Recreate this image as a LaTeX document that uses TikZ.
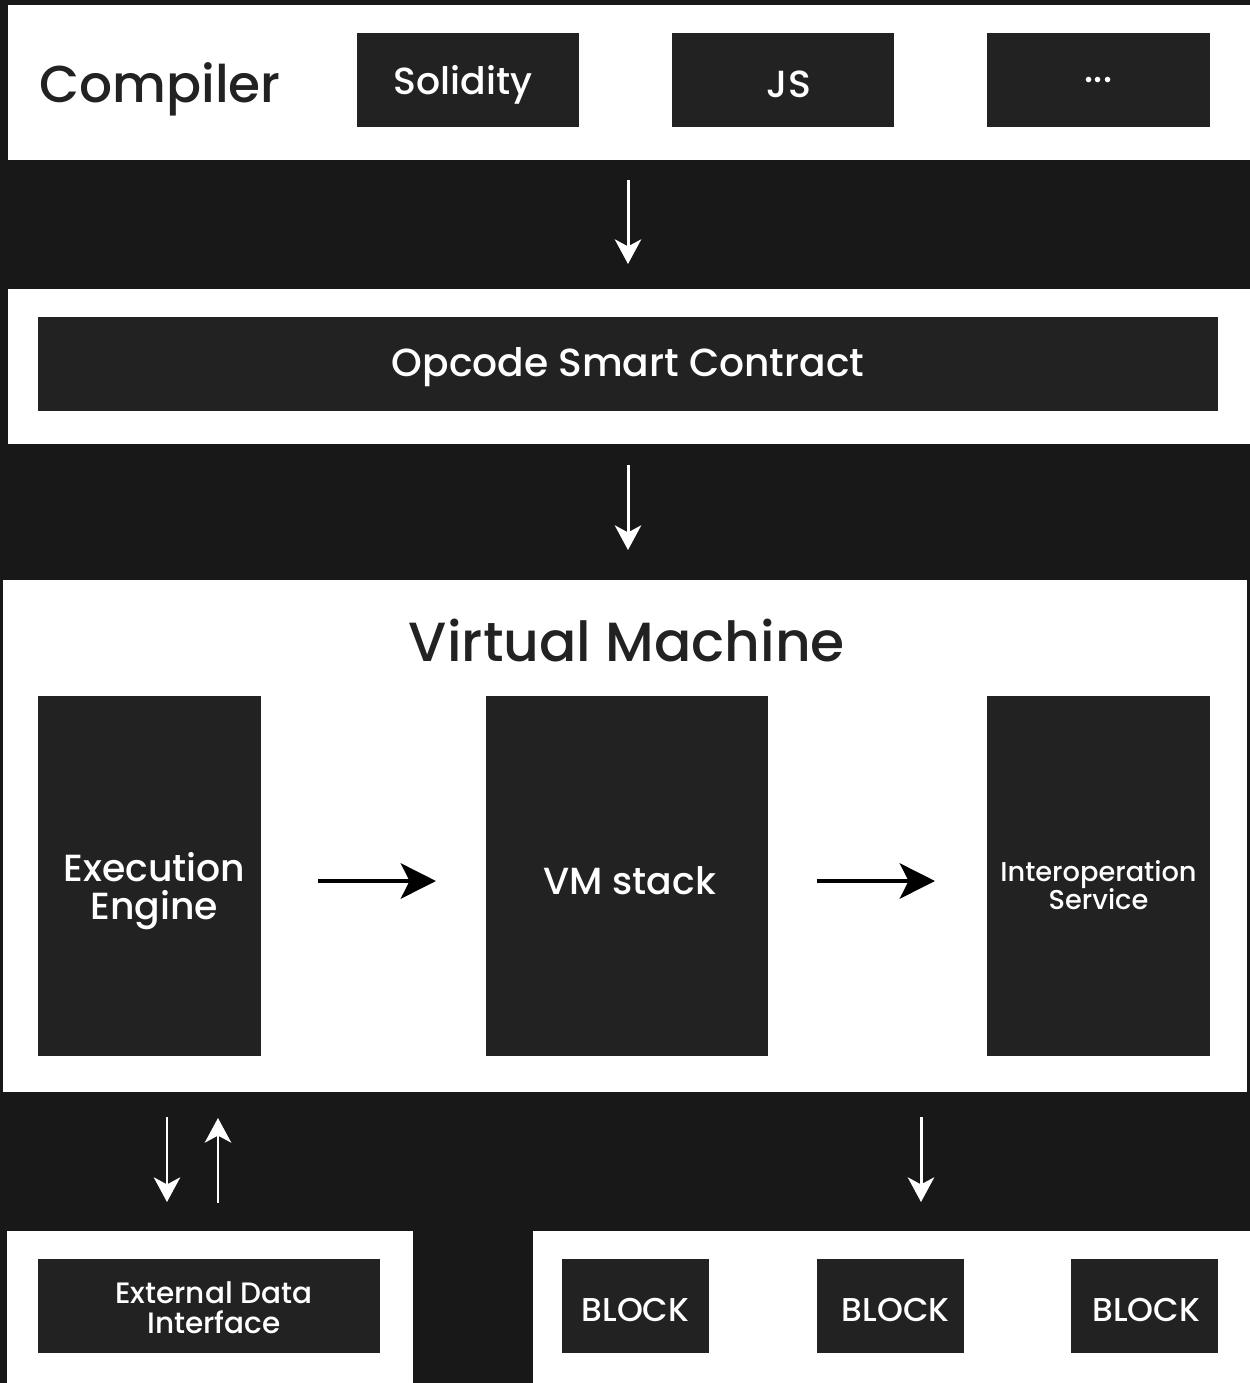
\documentclass[tikz,border=0pt]{standalone}
\usepackage{fontspec}
\setmainfont{Poppins Medium}
\usetikzlibrary{fit,arrows.meta}
\definecolor{bg}{HTML}{181818}
\definecolor{boxc}{HTML}{222222}
\definecolor{txt}{HTML}{222222}
\begin{document}
\begin{tikzpicture}[x=0.02cm,y=-0.02cm,
  panel/.style={fill=white,draw=none,inner sep=0pt},
  box/.style={fill=boxc,draw=none,inner sep=0pt,text=white,align=center},
  warrow/.style={draw=white,line width=1.7pt,-{Stealth[length=14pt,width=15pt,inset=4pt]}},
  barrow/.style={draw=black,line width=2.8pt,-{Stealth[length=20pt,width=20pt,inset=5pt]}},
  f22/.style={font=\fontsize{21.5}{26}\selectfont},
  f16/.style={font=\fontsize{15.5}{17}\selectfont},
  f17/.style={font=\fontsize{16.8}{18}\selectfont},
  f18/.style={font=\fontsize{18.8}{20}\selectfont}]
\fill[bg] (0,0) rectangle (1250,1383);
\useasboundingbox (0,0) rectangle (1250,1383);
% panels
\node[panel,fit={(8,5)(1250,160)}] (p1) {};
\node[panel,fit={(8,289)(1250,444)}] (p2) {};
\node[panel,fit={(3,580)(1247,1092)}] (p3) {};
\node[panel,fit={(7,1231)(413,1383)}] (p4) {};
\node[panel,fit={(533,1231)(1250,1383)}] (p5) {};
% compiler row
\node[anchor=west,text=txt,font=\fontsize{29.5}{34}\selectfont,inner sep=0pt] (comp) at (39,89) {Compiler};
\node[box,fit={(357,33)(579,127)}] (sol) {};
\node[text=white,f22] at ([yshift=-2.5pt,xshift=-2.8pt]sol.center) {Solidity};
\node[box,fit={(672,33)(894,127)}] (js) {};
\node[text=white,f22] at ([yshift=-2.5pt,xshift=3.4pt]js.center) {JS};
\node[box,fit={(987,33)(1210,127)}] (etc) {};
\node[text=white,f22] at ([yshift=0pt]etc.center) {...};
% opcode
\node[box,fit={(38,317)(1218,411)}] (op) {};
\node[text=white,font=\fontsize{22.3}{26}\selectfont] at ([yshift=-2pt]op.center) {Opcode Smart Contract};
% VM
\node[text=txt,font=\fontsize{31.4}{36}\selectfont] (vm) at (627,640) {Virtual Machine};
\node[box,fit={(38,696)(261,1056)}] (ee) {};
\node[text=white,f22,align=center] at ([yshift=-8.5pt,xshift=2.8pt]ee.center) {Execution\\[-4pt]Engine};
\node[box,fit={(486,696)(768,1056)}] (st) {};
\node[text=white,f22] at ([yshift=-2.5pt,xshift=1.5pt]st.center) {VM stack};
\node[box,fit={(987,696)(1210,1056)}] (io) {};
\node[text=white,f16,align=center] at ([yshift=-5pt]io.center) {Interoperation\\[-1pt]Service};
% bottom
\node[box,fit={(38,1259)(380,1353)}] (ext) {};
\node[text=white,f17,align=center] at ([yshift=-1pt,xshift=2.8pt]ext.center) {External Data\\[-1pt]Interface};
\node[box,fit={(562,1259)(709,1353)}] (b1) {};
\node[text=white,f18] at ([yshift=-2pt]b1.center) {BLOCK};
\node[box,fit={(817,1259)(964,1353)}] (b2) {};
\node[text=white,f18] at ([yshift=-2pt,xshift=3pt]b2.center) {BLOCK};
\node[box,fit={(1071,1259)(1218,1353)}] (b3) {};
\node[text=white,f18] at ([yshift=-2pt,xshift=1pt]b3.center) {BLOCK};
% connector coordinates
\coordinate (a1s) at (628,180); \coordinate (a1e) at (628,264);
\coordinate (a2s) at (628,465); \coordinate (a2e) at (628,550);
\coordinate (a3s) at (167,1117); \coordinate (a3e) at (167,1202);
\coordinate (a4s) at (218,1203); \coordinate (a4e) at (218,1118);
\coordinate (a5s) at (921,1117); \coordinate (a5e) at (921,1202);
\coordinate (h1s) at (318,881); \coordinate (h1e) at (436,881);
\coordinate (h2s) at (817,881); \coordinate (h2e) at (935,881);
\draw[warrow] (a1s) -- (a1e);
\draw[warrow] (a2s) -- (a2e);
\draw[warrow] (a3s) -- (a3e);
\draw[warrow] (a4s) -- (a4e);
\draw[warrow] (a5s) -- (a5e);
\draw[barrow] (h1s) -- (h1e);
\draw[barrow] (h2s) -- (h2e);
\end{tikzpicture}
\end{document}
